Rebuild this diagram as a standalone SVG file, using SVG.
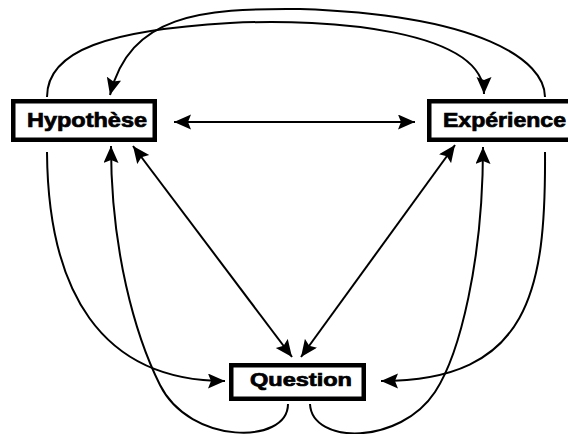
<svg xmlns="http://www.w3.org/2000/svg" width="568" height="434" viewBox="0 0 568 434">
<style>
.box{fill:#fff;stroke:#000;stroke-width:4.5}
.lbl{font-family:"Liberation Sans",Arial,sans-serif;font-weight:bold;fill:#000;stroke:#000;stroke-width:0.7}
.c{fill:none;stroke:#000;stroke-width:2}
</style>
<defs>
<marker id="ah" markerUnits="userSpaceOnUse" markerWidth="18" markerHeight="16" refX="17" refY="7.5" orient="auto-start-reverse" viewBox="0 0 18 16">
<path d="M0,0 L17,7.5 L0,15 L3,7.5 z" fill="#000"/>
</marker>
</defs>
<rect width="568" height="434" fill="#fff"/>
<g id="connectors">
<line class="c" x1="174" y1="122" x2="415" y2="122" marker-start="url(#ah)" marker-end="url(#ah)"/>
<line class="c" x1="133" y1="146" x2="292" y2="357" marker-start="url(#ah)" marker-end="url(#ah)"/>
<line class="c" x1="455" y1="145" x2="301" y2="357" marker-start="url(#ah)" marker-end="url(#ah)"/>
<path class="c" d="M47,97 C47,50 110,30 230,23 C330,18 484,30 484,94" marker-end="url(#ah)"/>
<path class="c" d="M545,97 C545,60 480,15 300,9 C200,8 130,15 110,95" marker-end="url(#ah)"/>
<path class="c" d="M47,152 C48,290 100,381 225,381" marker-end="url(#ah)"/>
<path class="c" d="M545,152 C546,290 530,381 381,381" marker-end="url(#ah)"/>
<path class="c" d="M288,404 C288,445 190,445 160,385 C135,335 111,250 111,146" marker-end="url(#ah)"/>
<path class="c" d="M310,404 C312,445 400,445 435,392 C460,354 483,260 483,147" marker-end="url(#ah)"/>
</g>
<g id="hypothese">
<rect class="box" x="13.25" y="101.25" width="141.5" height="38.5"/>
<text class="lbl" x="27" y="127" font-size="20" textLength="120" lengthAdjust="spacingAndGlyphs">Hypothèse</text>
</g>
<g id="experience">
<rect class="box" x="429.25" y="101.25" width="150" height="38.5"/>
<text class="lbl" x="443" y="127" font-size="20" textLength="123" lengthAdjust="spacingAndGlyphs">Expérience</text>
</g>
<g id="question">
<rect class="box" x="231.25" y="365.25" width="132.5" height="33.5"/>
<text class="lbl" x="250" y="386" font-size="18" textLength="102" lengthAdjust="spacingAndGlyphs">Question</text>
</g>
</svg>
